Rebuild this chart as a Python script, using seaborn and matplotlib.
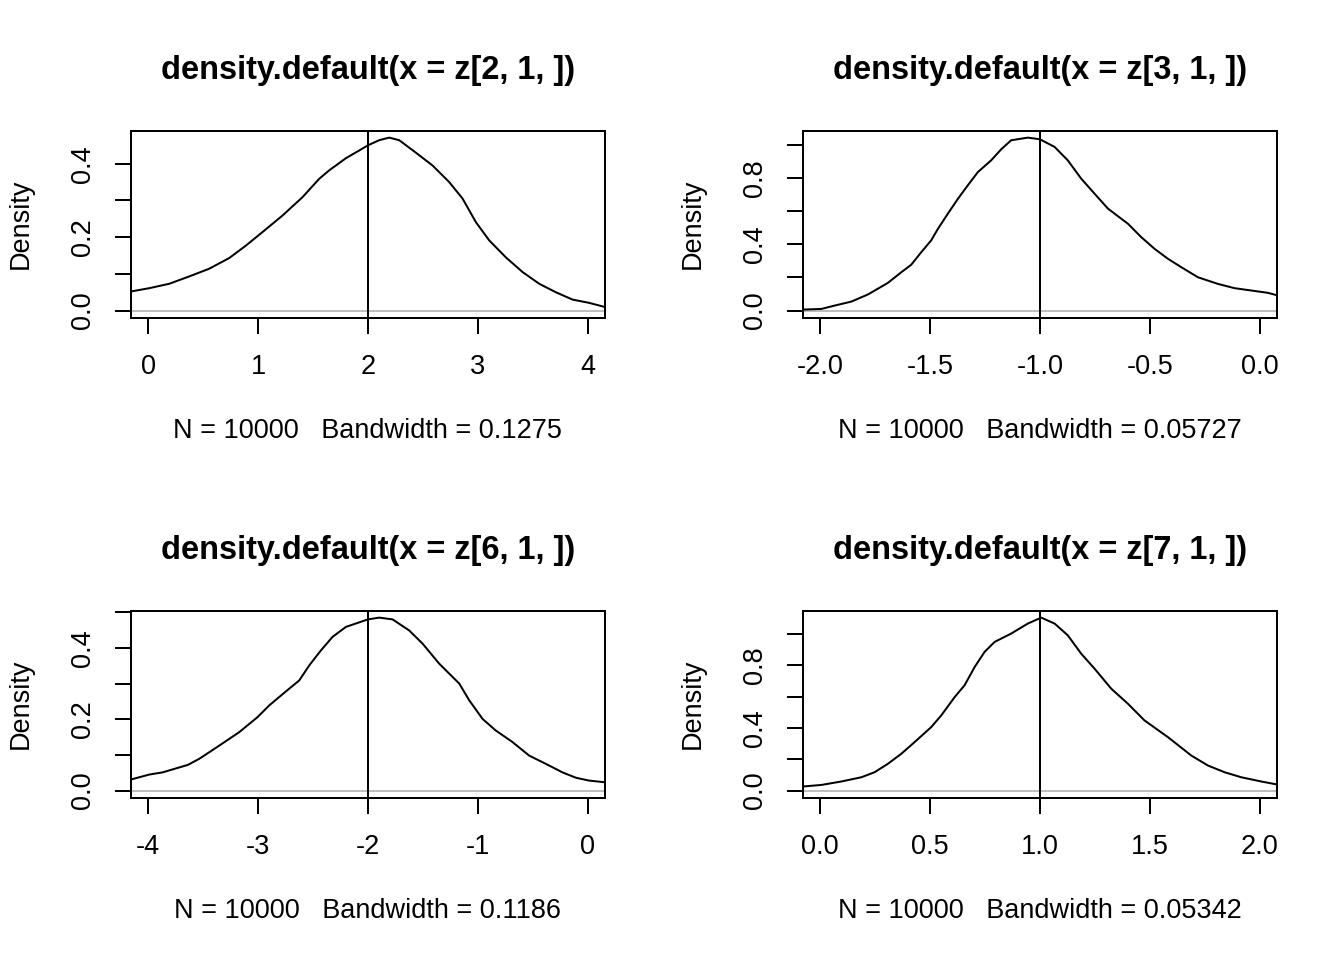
import numpy as np
import matplotlib
matplotlib.use("Agg")
import matplotlib.pyplot as plt
import seaborn as sns

# values
x_z2 = [-0.158, 0.009, 0.191, 0.373, 0.555, 0.737, 0.889, 1.041, 1.223, 1.405, 1.557, 1.648,
        1.80, 1.921, 2.0, 2.103, 2.194, 2.285, 2.437, 2.589, 2.74, 2.862, 2.983, 3.105, 3.256,
        3.408, 3.56, 3.711, 3.863, 4.015, 4.167]
y_z2 = [0.052, 0.061, 0.073, 0.093, 0.114, 0.143, 0.177, 0.214, 0.259, 0.309, 0.359, 0.382,
        0.415, 0.436, 0.450, 0.464, 0.471, 0.464, 0.430, 0.395, 0.350, 0.305, 0.241, 0.191,
        0.145, 0.105, 0.073, 0.050, 0.030, 0.021, 0.009]

x_z3 = [-2.079, -1.995, -1.935, -1.859, -1.783, -1.692, -1.631, -1.586, -1.540, -1.495, -1.464,
        -1.419, -1.373, -1.328, -1.282, -1.222, -1.176, -1.131, -1.055, -1.0, -0.933, -0.873,
        -0.812, -0.751, -0.690, -0.599, -0.539, -0.478, -0.417, -0.357, -0.281, -0.190, -0.114,
        -0.038, 0.038, 0.083]
y_z3 = [0.006, 0.010, 0.030, 0.054, 0.097, 0.167, 0.231, 0.276, 0.352, 0.423, 0.493, 0.584,
        0.674, 0.755, 0.835, 0.905, 0.972, 1.026, 1.042, 1.032, 0.986, 0.905, 0.795, 0.704,
        0.614, 0.523, 0.443, 0.372, 0.312, 0.262, 0.201, 0.161, 0.135, 0.121, 0.107, 0.091]

x_z6 = [-4.158, -3.99, -3.87, -3.64, -3.536, -3.354, -3.171, -3.005, -2.898, -2.747, -2.625,
        -2.534, -2.428, -2.322, -2.20, -2.0, -1.897, -1.775, -1.624, -1.502, -1.351, -1.168,
        -1.077, -0.956, -0.838, -0.683, -0.531, -0.38, -0.228, -0.106, 0.015, 0.167]
y_z6 = [0.031, 0.045, 0.051, 0.072, 0.089, 0.126, 0.164, 0.206, 0.239, 0.278, 0.309, 0.351,
        0.393, 0.431, 0.459, 0.480, 0.485, 0.480, 0.449, 0.412, 0.356, 0.300, 0.253, 0.201,
        0.169, 0.136, 0.098, 0.075, 0.051, 0.036, 0.028, 0.023]

x_z7 = [-0.079, 0.005, 0.096, 0.187, 0.247, 0.308, 0.369, 0.429, 0.505, 0.551, 0.612, 0.657,
        0.703, 0.748, 0.794, 0.869, 0.945, 1.006, 1.067, 1.127, 1.188, 1.249, 1.325, 1.401,
        1.476, 1.583, 1.689, 1.765, 1.841, 1.917, 2.008, 2.083]
y_z7 = [0.026, 0.036, 0.058, 0.085, 0.117, 0.171, 0.235, 0.309, 0.405, 0.480, 0.597, 0.672,
        0.789, 0.885, 0.949, 1.002, 1.066, 1.104, 1.066, 0.991, 0.874, 0.778, 0.650, 0.554,
        0.448, 0.341, 0.224, 0.160, 0.117, 0.085, 0.058, 0.038]

titles = ["density.default(x = z[2, 1, ])", "density.default(x = z[3, 1, ])",
          "density.default(x = z[6, 1, ])", "density.default(x = z[7, 1, ])"]
bandwidths = ["0.1275", "0.05727", "0.1186", "0.05342"]
true_vals = [2, -1, -2, 1]
x_ranges = [(0, 4), (-2, 0), (-4, 0), (0, 2)]
x_ticks = [[0, 1, 2, 3, 4], [-2.0, -1.5, -1.0, -0.5, 0.0], [-4, -3, -2, -1, 0], [0.0, 0.5, 1.0, 1.5, 2.0]]
x_ticklabels = [["0", "1", "2", "3", "4"], ["-2.0", "-1.5", "-1.0", "-0.5", "0.0"],
                ["-4", "-3", "-2", "-1", "0"], ["0.0", "0.5", "1.0", "1.5", "2.0"]]
y_ticks = [[0, 0.1, 0.2, 0.3, 0.4], [0, 0.2, 0.4, 0.6, 0.8, 1.0],
           [0, 0.1, 0.2, 0.3, 0.4, 0.5], [0, 0.2, 0.4, 0.6, 0.8, 1.0]]
y_ticklabels = [["0.0", "", "0.2", "", "0.4"], ["0.0", "", "0.4", "", "0.8", ""],
                ["0.0", "", "0.2", "", "0.4", ""], ["0.0", "", "0.4", "", "0.8", ""]]
curves = [(x_z2, y_z2), (x_z3, y_z3), (x_z6, y_z6), (x_z7, y_z7)]

sns.set_style("white")
plt.rcParams["font.family"] = ["Liberation Sans", "DejaVu Sans"]
plt.rcParams["text.color"] = "black"
plt.rcParams["axes.labelcolor"] = "black"

fig = plt.figure(figsize=(7, 5), dpi=192)
W, H = 1344, 960
lefts = [130.7, 802.7, 130.7, 802.7]
bottoms = [317.5, 317.5, 797.5, 797.5]

for i in range(4):
    ax = fig.add_axes([lefts[i] / W, (H - bottoms[i]) / H, 474.4 / W, 186.8 / H])
    xs, ys = curves[i]
    lo, hi = x_ranges[i]
    pad = 0.04 * (hi - lo)
    ax.set_xlim(lo - pad, hi + pad)
    top = max(ys)
    ax.set_ylim(-0.04 * top, 1.04 * top)

    ax.axhline(0, color="#BEBEBE", lw=0.75, zorder=1)
    sns.lineplot(x=xs, y=ys, ax=ax, color="black", lw=0.75, estimator=None, sort=False, zorder=3)
    ax.axvline(true_vals[i], color="black", lw=0.75, zorder=2)

    for s in ax.spines.values():
        s.set_visible(True)
        s.set_color("black")
        s.set_linewidth(0.75)

    ax.set_xticks(x_ticks[i])
    ax.set_xticklabels(x_ticklabels[i])
    ax.set_yticks(y_ticks[i])
    ax.set_yticklabels(y_ticklabels[i], rotation=90, va="center", ha="right")
    ax.tick_params(axis="both", direction="out", length=6, width=0.75, color="black",
                   labelsize=10.2, labelcolor="black", left=True, bottom=True)
    ax.tick_params(axis="x", pad=7.5)
    ax.tick_params(axis="y", pad=7)

    ax.set_title(titles[i], fontsize=12.2, fontweight="bold", pad=19.5, color="black")
    ax.set_xlabel("N = 10000   Bandwidth = " + bandwidths[i], fontsize=10.2)
    ax.xaxis.label.set_va("baseline")
    ax.xaxis.set_label_coords(0.5, -(438 - 317.5) / 186.8)
    ax.set_ylabel("Density", fontsize=10.2)
    ax.yaxis.set_label_coords(-(130.7 - 34) / 474.4, 0.5)

fig.savefig("out.png", dpi=192)
